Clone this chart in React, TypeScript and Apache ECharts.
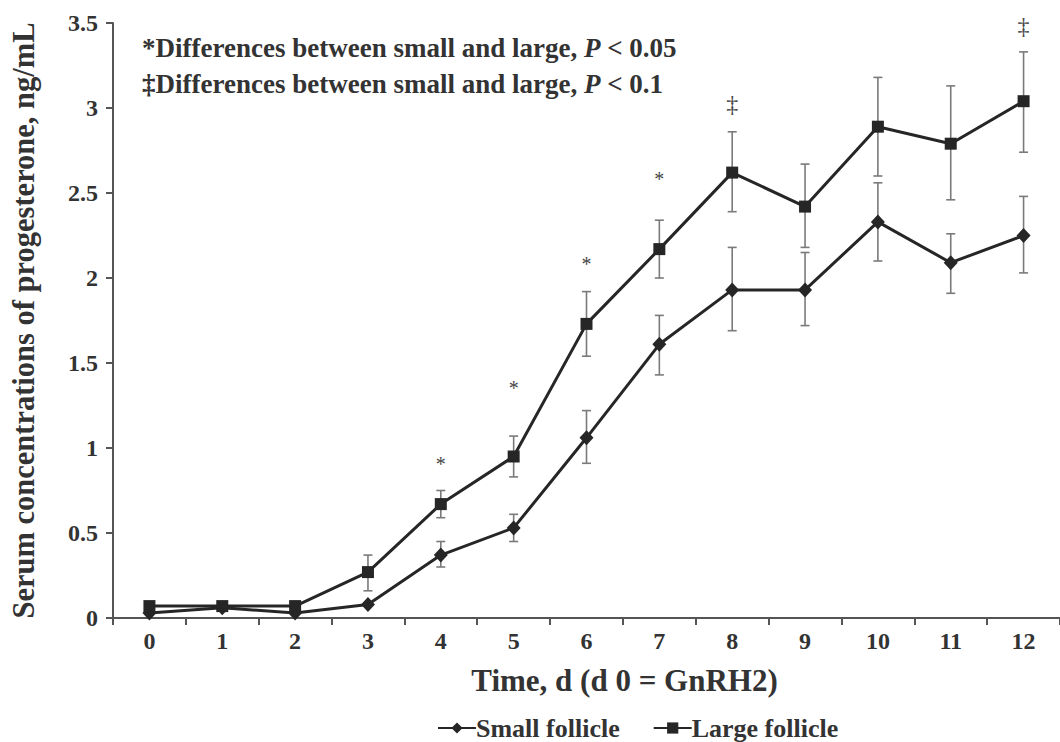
import React, { useEffect, useRef } from "react";
import * as echarts from "echarts";

const days = ["0", "1", "2", "3", "4", "5", "6", "7", "8", "9", "10", "11", "12"];
const smallMean = [0.03, 0.06, 0.03, 0.08, 0.37, 0.53, 1.06, 1.61, 1.93, 1.93, 2.33, 2.09, 2.25];
const smallLow = [null, null, null, null, 0.3, 0.45, 0.91, 1.43, 1.69, 1.72, 2.1, 1.91, 2.03];
const smallHigh = [null, null, null, null, 0.45, 0.61, 1.22, 1.78, 2.18, 2.15, 2.56, 2.26, 2.48];
const largeMean = [0.07, 0.07, 0.07, 0.27, 0.67, 0.95, 1.73, 2.17, 2.62, 2.42, 2.89, 2.79, 3.04];
const largeLow = [null, null, null, 0.16, 0.59, 0.83, 1.54, 2.0, 2.39, 2.18, 2.6, 2.46, 2.74];
const largeHigh = [null, null, null, 0.37, 0.75, 1.07, 1.92, 2.34, 2.86, 2.67, 3.18, 3.13, 3.33];
const sigMarks = ["", "", "", "", "*", "*", "*", "*", "\u2021", "", "", "", "\u2021"];
const sigPos = [null, null, null, null, 0.94, 1.39, 2.12, 2.62, 3.03, null, null, null, 3.49];
const yTicks = { min: 0, max: 3.5, interval: 0.5 };

const FONT = "'Liberation Serif', 'Times New Roman', serif";
const INK = "#262626";
const ERR = "#7a7a7a";

function errData(low: (number | null)[], high: (number | null)[]) {
  const out: any[] = [];
  low.forEach((l, i) => {
    const h = high[i];
    if (l != null && h != null) out.push([i, l, h]);
  });
  return out;
}

function renderErr(params: any, api: any) {
  const x = api.value(0);
  const lo = api.coord([x, api.value(1)]);
  const hi = api.coord([x, api.value(2)]);
  const cap = 4.5;
  const style = { stroke: ERR, lineWidth: 1.6 };
  return {
    type: "group",
    children: [
      { type: "line", shape: { x1: lo[0], y1: lo[1], x2: hi[0], y2: hi[1] }, style },
      { type: "line", shape: { x1: lo[0] - cap, y1: lo[1], x2: lo[0] + cap, y2: lo[1] }, style },
      { type: "line", shape: { x1: hi[0] - cap, y1: hi[1], x2: hi[0] + cap, y2: hi[1] }, style },
    ],
  };
}

function renderSig(params: any, api: any) {
  const idx = api.value(0);
  const p = api.coord([idx, api.value(1)]);
  const mark = sigMarks[idx];
  const isStar = mark === "*";
  return {
    type: "text",
    x: p[0],
    y: p[1] + (isStar ? 6 : 1),
    style: {
      text: mark,
      fill: "#444",
      font: `${isStar ? 20 : 24}px ${FONT}`,
      align: "center",
      verticalAlign: "middle",
    },
  };
}

export default function App() {
  const ref = useRef<HTMLDivElement>(null);
  useEffect(() => {
    if (!ref.current) return;
    const chart = echarts.init(ref.current, null, { renderer: "svg" });
    const sigData: any[] = [];
    sigPos.forEach((v, i) => {
      if (v != null) sigData.push([i, v]);
    });
    const rich = { i: { fontStyle: "italic", fontWeight: "bold", fontSize: 27, fontFamily: FONT, fill: "#333" } };
    chart.setOption({
      animation: false,
      backgroundColor: "#fff",
      grid: { left: 110, top: 23, width: 957, height: 595, containLabel: false },
      legend: {
        left: 432,
        top: 710,
        itemWidth: 38,
        itemHeight: 14,
        itemGap: 33,
        data: ["Small follicle", "Large follicle"],
        textStyle: {
          fontFamily: FONT,
          fontWeight: "bold",
          fontSize: 26,
          lineHeight: 26,
          color: "#333",
          padding: [0, 0, 0, -5],
        },
      },
      xAxis: {
        type: "category",
        data: days,
        boundaryGap: true,
        name: "Time, d (d 0 = GnRH2)",
        nameLocation: "middle",
        nameGap: 47,
        nameTextStyle: {
          fontFamily: FONT,
          fontWeight: "bold",
          fontSize: 31,
          color: "#333",
          padding: [0, 0, 0, 76],
        },
        axisLine: { lineStyle: { color: "#555", width: 2 } },
        axisTick: { show: true, length: 7, lineStyle: { color: "#555", width: 2 } },
        axisLabel: { fontFamily: FONT, fontWeight: "bold", fontSize: 24, color: "#333", margin: 11 },
        splitLine: { show: false },
      },
      yAxis: {
        type: "value",
        min: yTicks.min,
        max: yTicks.max,
        interval: yTicks.interval,
        name: "Serum concentrations of progesterone, ng/mL",
        nameLocation: "middle",
        nameGap: 74,
        nameTextStyle: { fontFamily: FONT, fontWeight: "bold", fontSize: 30.5, color: "#333" },
        axisLine: { show: true, lineStyle: { color: "#555", width: 2 } },
        axisTick: { show: true, length: 7, lineStyle: { color: "#555", width: 2 } },
        axisLabel: {
          fontFamily: FONT,
          fontWeight: "bold",
          fontSize: 24,
          color: "#333",
          margin: 15,
          formatter: (v: number) => String(v),
        },
        splitLine: { show: false },
      },
      graphic: [
        {
          type: "text",
          left: 142,
          top: 34,
          style: {
            text: "*Differences between small and large, {i|P} < 0.05",
            font: `bold 27px ${FONT}`,
            fill: "#333",
            rich,
          },
        },
        {
          type: "text",
          left: 142,
          top: 70,
          style: {
            text: "\u2021Differences between small and large, {i|P} < 0.1",
            font: `bold 27px ${FONT}`,
            fill: "#333",
            rich,
          },
        },
      ],
      series: [
        {
          type: "custom",
          name: "errSmall",
          renderItem: renderErr,
          data: errData(smallLow, smallHigh),
          z: 1,
          silent: true,
        },
        {
          type: "custom",
          name: "errLarge",
          renderItem: renderErr,
          data: errData(largeLow, largeHigh),
          z: 1,
          silent: true,
        },
        {
          type: "line",
          name: "Small follicle",
          data: smallMean,
          symbol: "diamond",
          symbolSize: [14, 15],
          lineStyle: { color: INK, width: 3 },
          itemStyle: { color: INK },
          z: 3,
        },
        {
          type: "line",
          name: "Large follicle",
          data: largeMean,
          symbol: "rect",
          symbolSize: 12,
          lineStyle: { color: INK, width: 3 },
          itemStyle: { color: INK },
          z: 3,
        },
        {
          type: "custom",
          name: "sig",
          renderItem: renderSig,
          data: sigData,
          z: 4,
          silent: true,
        },
      ],
    });
    return () => chart.dispose();
  }, []);
  return (
    <div
      ref={ref}
      style={{ position: "absolute", left: 0, top: 0, width: 1060, height: 742, background: "#fff" }}
    />
  );
}
